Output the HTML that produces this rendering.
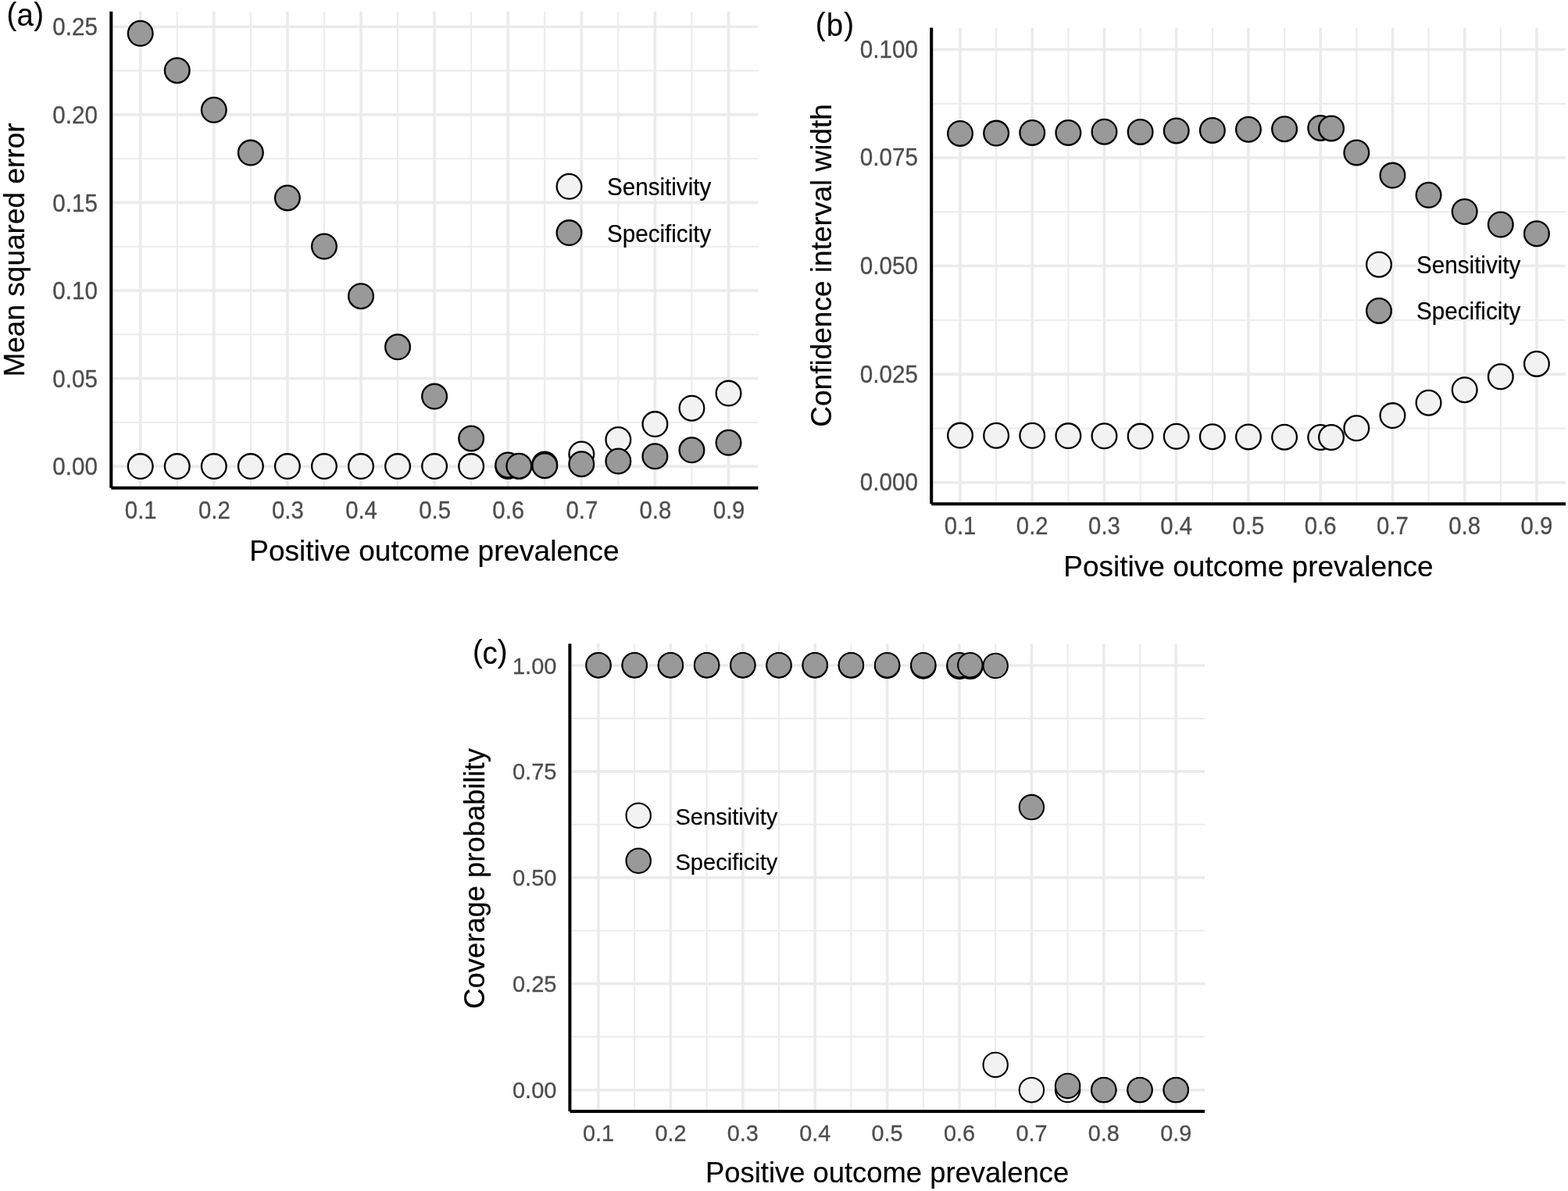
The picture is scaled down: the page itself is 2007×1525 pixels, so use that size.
<!DOCTYPE html>
<html lang="en">
<head>
<meta charset="utf-8">
<title>Sensitivity and specificity versus positive outcome prevalence</title>
<style>
html,body{margin:0;padding:0;background:#fff;}
body{width:2007px;height:1525px;overflow:hidden;}
svg{display:block;font-family:"Liberation Sans",Arial,Helvetica,sans-serif;}
.tag{font-family:"Liberation Sans","DejaVu Sans",sans-serif;}
</style>
</head>
<body>
<svg width="2007" height="1525" viewBox="0 0 2007 1525">
<rect width="2007" height="1525" fill="#fff"/>
<g id="panel-a">
<g stroke="#ebebeb" fill="none">
<line x1="142.3" x2="970.4" y1="90.54" y2="90.54" stroke-width="1.95"/>
<line x1="142.3" x2="970.4" y1="203.12" y2="203.12" stroke-width="1.95"/>
<line x1="142.3" x2="970.4" y1="315.7" y2="315.7" stroke-width="1.95"/>
<line x1="142.3" x2="970.4" y1="428.28" y2="428.28" stroke-width="1.95"/>
<line x1="142.3" x2="970.4" y1="540.86" y2="540.86" stroke-width="1.95"/>
<line x1="226.75" x2="226.75" y1="14.7" y2="624.8" stroke-width="1.95"/>
<line x1="320.85" x2="320.85" y1="14.7" y2="624.8" stroke-width="1.95"/>
<line x1="414.95" x2="414.95" y1="14.7" y2="624.8" stroke-width="1.95"/>
<line x1="509.05" x2="509.05" y1="14.7" y2="624.8" stroke-width="1.95"/>
<line x1="603.15" x2="603.15" y1="14.7" y2="624.8" stroke-width="1.95"/>
<line x1="697.25" x2="697.25" y1="14.7" y2="624.8" stroke-width="1.95"/>
<line x1="791.35" x2="791.35" y1="14.7" y2="624.8" stroke-width="1.95"/>
<line x1="885.45" x2="885.45" y1="14.7" y2="624.8" stroke-width="1.95"/>
<line x1="142.3" x2="970.4" y1="34.25" y2="34.25" stroke-width="3.6"/>
<line x1="142.3" x2="970.4" y1="146.83" y2="146.83" stroke-width="3.6"/>
<line x1="142.3" x2="970.4" y1="259.41" y2="259.41" stroke-width="3.6"/>
<line x1="142.3" x2="970.4" y1="371.99" y2="371.99" stroke-width="3.6"/>
<line x1="142.3" x2="970.4" y1="484.57" y2="484.57" stroke-width="3.6"/>
<line x1="142.3" x2="970.4" y1="597.15" y2="597.15" stroke-width="3.6"/>
<line x1="179.7" x2="179.7" y1="14.7" y2="624.8" stroke-width="3.6"/>
<line x1="273.8" x2="273.8" y1="14.7" y2="624.8" stroke-width="3.6"/>
<line x1="367.9" x2="367.9" y1="14.7" y2="624.8" stroke-width="3.6"/>
<line x1="462" x2="462" y1="14.7" y2="624.8" stroke-width="3.6"/>
<line x1="556.1" x2="556.1" y1="14.7" y2="624.8" stroke-width="3.6"/>
<line x1="650.2" x2="650.2" y1="14.7" y2="624.8" stroke-width="3.6"/>
<line x1="744.3" x2="744.3" y1="14.7" y2="624.8" stroke-width="3.6"/>
<line x1="838.4" x2="838.4" y1="14.7" y2="624.8" stroke-width="3.6"/>
<line x1="932.5" x2="932.5" y1="14.7" y2="624.8" stroke-width="3.6"/>
</g>
<g stroke="#000" stroke-width="2.3" fill="#f2f2f2">
<circle cx="179.7" cy="597.1" r="15.85"/>
<circle cx="226.75" cy="597.1" r="15.85"/>
<circle cx="273.8" cy="597.1" r="15.85"/>
<circle cx="320.85" cy="597.1" r="15.85"/>
<circle cx="367.9" cy="597.1" r="15.85"/>
<circle cx="414.95" cy="597.1" r="15.85"/>
<circle cx="462" cy="597.1" r="15.85"/>
<circle cx="509.05" cy="597.1" r="15.85"/>
<circle cx="556.1" cy="597.1" r="15.85"/>
<circle cx="603.15" cy="597.1" r="15.85"/>
<circle cx="650.2" cy="597.1" r="15.85"/>
<circle cx="664.31" cy="597.1" r="15.85"/>
<circle cx="697.25" cy="594.4" r="15.85"/>
<circle cx="744.3" cy="581.5" r="15.85"/>
<circle cx="791.35" cy="563" r="15.85"/>
<circle cx="838.4" cy="543.1" r="15.85"/>
<circle cx="885.45" cy="522.7" r="15.85"/>
<circle cx="932.5" cy="503.6" r="15.85"/>
</g>
<g stroke="#000" stroke-width="2.3" fill="#999999">
<circle cx="179.7" cy="42.8" r="15.85"/>
<circle cx="226.75" cy="90.2" r="15.85"/>
<circle cx="273.8" cy="140.8" r="15.85"/>
<circle cx="320.85" cy="195.6" r="15.85"/>
<circle cx="367.9" cy="253.4" r="15.85"/>
<circle cx="414.95" cy="315.5" r="15.85"/>
<circle cx="462" cy="379.2" r="15.85"/>
<circle cx="509.05" cy="444.3" r="15.85"/>
<circle cx="556.1" cy="507.6" r="15.85"/>
<circle cx="603.15" cy="561.4" r="15.85"/>
<circle cx="650.2" cy="595.5" r="15.85"/>
<circle cx="664.31" cy="596.7" r="15.85"/>
<circle cx="697.25" cy="596.2" r="15.85"/>
<circle cx="744.3" cy="594.2" r="15.85"/>
<circle cx="791.35" cy="590.5" r="15.85"/>
<circle cx="838.4" cy="584.3" r="15.85"/>
<circle cx="885.45" cy="576.3" r="15.85"/>
<circle cx="932.5" cy="566.8" r="15.85"/>
</g>
<path d="M142.3 14.7V624.8M142.3 624.8H970.4" stroke="#000" stroke-width="4.05" fill="none"/>
<g fill="#4d4d4d">
<text transform="translate(125 45.35) scale(1 1.04)" font-size="29.62" text-anchor="end" stroke="#4d4d4d" stroke-width="0.3">0.25</text>
<text transform="translate(125 157.93) scale(1 1.04)" font-size="29.62" text-anchor="end" stroke="#4d4d4d" stroke-width="0.3">0.20</text>
<text transform="translate(125 270.51) scale(1 1.04)" font-size="29.62" text-anchor="end" stroke="#4d4d4d" stroke-width="0.3">0.15</text>
<text transform="translate(125 383.09) scale(1 1.04)" font-size="29.62" text-anchor="end" stroke="#4d4d4d" stroke-width="0.3">0.10</text>
<text transform="translate(125 495.67) scale(1 1.04)" font-size="29.62" text-anchor="end" stroke="#4d4d4d" stroke-width="0.3">0.05</text>
<text transform="translate(125 608.25) scale(1 1.04)" font-size="29.62" text-anchor="end" stroke="#4d4d4d" stroke-width="0.3">0.00</text>
<text transform="translate(180.2 663.9) scale(1 1.04)" font-size="29.33" text-anchor="middle" stroke="#4d4d4d" stroke-width="0.3">0.1</text>
<text transform="translate(274.3 663.9) scale(1 1.04)" font-size="29.33" text-anchor="middle" stroke="#4d4d4d" stroke-width="0.3">0.2</text>
<text transform="translate(368.4 663.9) scale(1 1.04)" font-size="29.33" text-anchor="middle" stroke="#4d4d4d" stroke-width="0.3">0.3</text>
<text transform="translate(462.5 663.9) scale(1 1.04)" font-size="29.33" text-anchor="middle" stroke="#4d4d4d" stroke-width="0.3">0.4</text>
<text transform="translate(556.6 663.9) scale(1 1.04)" font-size="29.33" text-anchor="middle" stroke="#4d4d4d" stroke-width="0.3">0.5</text>
<text transform="translate(650.7 663.9) scale(1 1.04)" font-size="29.33" text-anchor="middle" stroke="#4d4d4d" stroke-width="0.3">0.6</text>
<text transform="translate(744.8 663.9) scale(1 1.04)" font-size="29.33" text-anchor="middle" stroke="#4d4d4d" stroke-width="0.3">0.7</text>
<text transform="translate(838.9 663.9) scale(1 1.04)" font-size="29.33" text-anchor="middle" stroke="#4d4d4d" stroke-width="0.3">0.8</text>
<text transform="translate(933 663.9) scale(1 1.04)" font-size="29.33" text-anchor="middle" stroke="#4d4d4d" stroke-width="0.3">0.9</text>
</g>
<text transform="translate(556 717.7) scale(1 1.0)" font-size="37.04" text-anchor="middle" stroke="#000" stroke-width="0.18">Positive outcome prevalence</text>
<text transform="translate(30.7 320) rotate(-90) scale(1 1.0)" font-size="37.04" text-anchor="middle" stroke="#000" stroke-width="0.18">Mean squared error</text>
<circle cx="728.5" cy="238.8" r="15.85" stroke="#000" stroke-width="2.3" fill="#f2f2f2"/>
<circle cx="728.5" cy="298.1" r="15.85" stroke="#000" stroke-width="2.3" fill="#999999"/>
<text transform="translate(777 250.3) scale(1 1.03)" font-size="29.62" stroke="#000" stroke-width="0.18">Sensitivity</text>
<text transform="translate(777 309.6) scale(1 1.03)" font-size="29.62" stroke="#000" stroke-width="0.18">Specificity</text>
<text transform="translate(8.5 31.65) scale(1 1.045)" font-size="38.5" letter-spacing="0.2" class="tag" stroke="#000" stroke-width="0.15">(<tspan dy="1.2">a</tspan><tspan dy="-1.2">)</tspan></text>
</g>
<g id="panel-b">
<g stroke="#ebebeb" fill="none">
<line x1="1192.2" x2="2004" y1="132.65" y2="132.65" stroke-width="1.95"/>
<line x1="1192.2" x2="2004" y1="271.25" y2="271.25" stroke-width="1.95"/>
<line x1="1192.2" x2="2004" y1="409.85" y2="409.85" stroke-width="1.95"/>
<line x1="1192.2" x2="2004" y1="548.45" y2="548.45" stroke-width="1.95"/>
<line x1="1275.12" x2="1275.12" y1="35.6" y2="645.2" stroke-width="1.95"/>
<line x1="1367.36" x2="1367.36" y1="35.6" y2="645.2" stroke-width="1.95"/>
<line x1="1459.6" x2="1459.6" y1="35.6" y2="645.2" stroke-width="1.95"/>
<line x1="1551.84" x2="1551.84" y1="35.6" y2="645.2" stroke-width="1.95"/>
<line x1="1644.08" x2="1644.08" y1="35.6" y2="645.2" stroke-width="1.95"/>
<line x1="1736.32" x2="1736.32" y1="35.6" y2="645.2" stroke-width="1.95"/>
<line x1="1828.56" x2="1828.56" y1="35.6" y2="645.2" stroke-width="1.95"/>
<line x1="1920.8" x2="1920.8" y1="35.6" y2="645.2" stroke-width="1.95"/>
<line x1="1192.2" x2="2004" y1="63.35" y2="63.35" stroke-width="3.6"/>
<line x1="1192.2" x2="2004" y1="201.95" y2="201.95" stroke-width="3.6"/>
<line x1="1192.2" x2="2004" y1="340.55" y2="340.55" stroke-width="3.6"/>
<line x1="1192.2" x2="2004" y1="479.15" y2="479.15" stroke-width="3.6"/>
<line x1="1192.2" x2="2004" y1="617.75" y2="617.75" stroke-width="3.6"/>
<line x1="1229" x2="1229" y1="35.6" y2="645.2" stroke-width="3.6"/>
<line x1="1321.24" x2="1321.24" y1="35.6" y2="645.2" stroke-width="3.6"/>
<line x1="1413.48" x2="1413.48" y1="35.6" y2="645.2" stroke-width="3.6"/>
<line x1="1505.72" x2="1505.72" y1="35.6" y2="645.2" stroke-width="3.6"/>
<line x1="1597.96" x2="1597.96" y1="35.6" y2="645.2" stroke-width="3.6"/>
<line x1="1690.2" x2="1690.2" y1="35.6" y2="645.2" stroke-width="3.6"/>
<line x1="1782.44" x2="1782.44" y1="35.6" y2="645.2" stroke-width="3.6"/>
<line x1="1874.68" x2="1874.68" y1="35.6" y2="645.2" stroke-width="3.6"/>
<line x1="1966.92" x2="1966.92" y1="35.6" y2="645.2" stroke-width="3.6"/>
</g>
<g stroke="#000" stroke-width="2.3" fill="#f2f2f2">
<circle cx="1229" cy="557.6" r="15.85"/>
<circle cx="1275.12" cy="557.7" r="15.85"/>
<circle cx="1321.24" cy="557.8" r="15.85"/>
<circle cx="1367.36" cy="558.1" r="15.85"/>
<circle cx="1413.48" cy="558.3" r="15.85"/>
<circle cx="1459.6" cy="558.6" r="15.85"/>
<circle cx="1505.72" cy="558.8" r="15.85"/>
<circle cx="1551.84" cy="559.2" r="15.85"/>
<circle cx="1597.96" cy="559.4" r="15.85"/>
<circle cx="1644.08" cy="559.7" r="15.85"/>
<circle cx="1690.2" cy="560" r="15.85"/>
<circle cx="1704.04" cy="560" r="15.85"/>
<circle cx="1736.32" cy="548.3" r="15.85"/>
<circle cx="1782.44" cy="532.1" r="15.85"/>
<circle cx="1828.56" cy="515.7" r="15.85"/>
<circle cx="1874.68" cy="499.2" r="15.85"/>
<circle cx="1920.8" cy="482.3" r="15.85"/>
<circle cx="1966.92" cy="465.9" r="15.85"/>
</g>
<g stroke="#000" stroke-width="2.3" fill="#999999">
<circle cx="1229" cy="170.9" r="15.85"/>
<circle cx="1275.12" cy="170.6" r="15.85"/>
<circle cx="1321.24" cy="169.9" r="15.85"/>
<circle cx="1367.36" cy="169.9" r="15.85"/>
<circle cx="1413.48" cy="168.7" r="15.85"/>
<circle cx="1459.6" cy="168.9" r="15.85"/>
<circle cx="1505.72" cy="167.4" r="15.85"/>
<circle cx="1551.84" cy="166.9" r="15.85"/>
<circle cx="1597.96" cy="165.7" r="15.85"/>
<circle cx="1644.08" cy="165.2" r="15.85"/>
<circle cx="1690.2" cy="163.9" r="15.85"/>
<circle cx="1704.04" cy="164.4" r="15.85"/>
<circle cx="1736.32" cy="195.4" r="15.85"/>
<circle cx="1782.44" cy="224.6" r="15.85"/>
<circle cx="1828.56" cy="249.8" r="15.85"/>
<circle cx="1874.68" cy="271" r="15.85"/>
<circle cx="1920.8" cy="287.5" r="15.85"/>
<circle cx="1966.92" cy="299.2" r="15.85"/>
</g>
<path d="M1192.2 35.6V645.2M1192.2 645.2H2004" stroke="#000" stroke-width="4.05" fill="none"/>
<g fill="#4d4d4d">
<text transform="translate(1174.9 73.75) scale(1 1.04)" font-size="29.62" text-anchor="end" stroke="#4d4d4d" stroke-width="0.3">0.100</text>
<text transform="translate(1174.9 212.35) scale(1 1.04)" font-size="29.62" text-anchor="end" stroke="#4d4d4d" stroke-width="0.3">0.075</text>
<text transform="translate(1174.9 350.95) scale(1 1.04)" font-size="29.62" text-anchor="end" stroke="#4d4d4d" stroke-width="0.3">0.050</text>
<text transform="translate(1174.9 489.55) scale(1 1.04)" font-size="29.62" text-anchor="end" stroke="#4d4d4d" stroke-width="0.3">0.025</text>
<text transform="translate(1174.9 628.15) scale(1 1.04)" font-size="29.62" text-anchor="end" stroke="#4d4d4d" stroke-width="0.3">0.000</text>
<text transform="translate(1229 684.3) scale(1 1.04)" font-size="29.33" text-anchor="middle" stroke="#4d4d4d" stroke-width="0.3">0.1</text>
<text transform="translate(1321.24 684.3) scale(1 1.04)" font-size="29.33" text-anchor="middle" stroke="#4d4d4d" stroke-width="0.3">0.2</text>
<text transform="translate(1413.48 684.3) scale(1 1.04)" font-size="29.33" text-anchor="middle" stroke="#4d4d4d" stroke-width="0.3">0.3</text>
<text transform="translate(1505.72 684.3) scale(1 1.04)" font-size="29.33" text-anchor="middle" stroke="#4d4d4d" stroke-width="0.3">0.4</text>
<text transform="translate(1597.96 684.3) scale(1 1.04)" font-size="29.33" text-anchor="middle" stroke="#4d4d4d" stroke-width="0.3">0.5</text>
<text transform="translate(1690.2 684.3) scale(1 1.04)" font-size="29.33" text-anchor="middle" stroke="#4d4d4d" stroke-width="0.3">0.6</text>
<text transform="translate(1782.44 684.3) scale(1 1.04)" font-size="29.33" text-anchor="middle" stroke="#4d4d4d" stroke-width="0.3">0.7</text>
<text transform="translate(1874.68 684.3) scale(1 1.04)" font-size="29.33" text-anchor="middle" stroke="#4d4d4d" stroke-width="0.3">0.8</text>
<text transform="translate(1966.92 684.3) scale(1 1.04)" font-size="29.33" text-anchor="middle" stroke="#4d4d4d" stroke-width="0.3">0.9</text>
</g>
<text transform="translate(1598 738.1) scale(1 1.0)" font-size="37.04" text-anchor="middle" stroke="#000" stroke-width="0.18">Positive outcome prevalence</text>
<text transform="translate(1064.3 339.9) rotate(-90) scale(1 1.0)" font-size="37.04" text-anchor="middle" stroke="#000" stroke-width="0.18">Confidence interval width</text>
<circle cx="1765" cy="338.7" r="15.85" stroke="#000" stroke-width="2.3" fill="#f2f2f2"/>
<circle cx="1765" cy="397.9" r="15.85" stroke="#000" stroke-width="2.3" fill="#999999"/>
<text transform="translate(1813.1 349.5) scale(1 1.03)" font-size="29.62" stroke="#000" stroke-width="0.18">Sensitivity</text>
<text transform="translate(1813.1 408.7) scale(1 1.03)" font-size="29.62" stroke="#000" stroke-width="0.18">Specificity</text>
<text transform="translate(1043.75 45.3) scale(1 1.045)" font-size="38.5" letter-spacing="1.1" class="tag" stroke="#000" stroke-width="0.15">(<tspan dy="0.96">b</tspan><tspan dy="-0.96">)</tspan></text>
</g>
<g id="panel-c">
<g stroke="#ebebeb" fill="none">
<line x1="729.4" x2="1542" y1="919.92" y2="919.92" stroke-width="1.95"/>
<line x1="729.4" x2="1542" y1="1055.78" y2="1055.78" stroke-width="1.95"/>
<line x1="729.4" x2="1542" y1="1191.62" y2="1191.62" stroke-width="1.95"/>
<line x1="729.4" x2="1542" y1="1327.52" y2="1327.52" stroke-width="1.95"/>
<line x1="812.2" x2="812.2" y1="824.3" y2="1422.9" stroke-width="1.95"/>
<line x1="904.6" x2="904.6" y1="824.3" y2="1422.9" stroke-width="1.95"/>
<line x1="997" x2="997" y1="824.3" y2="1422.9" stroke-width="1.95"/>
<line x1="1089.4" x2="1089.4" y1="824.3" y2="1422.9" stroke-width="1.95"/>
<line x1="1181.8" x2="1181.8" y1="824.3" y2="1422.9" stroke-width="1.95"/>
<line x1="1274.2" x2="1274.2" y1="824.3" y2="1422.9" stroke-width="1.95"/>
<line x1="1366.6" x2="1366.6" y1="824.3" y2="1422.9" stroke-width="1.95"/>
<line x1="1459" x2="1459" y1="824.3" y2="1422.9" stroke-width="1.95"/>
<line x1="729.4" x2="1542" y1="852" y2="852" stroke-width="3.6"/>
<line x1="729.4" x2="1542" y1="987.85" y2="987.85" stroke-width="3.6"/>
<line x1="729.4" x2="1542" y1="1123.7" y2="1123.7" stroke-width="3.6"/>
<line x1="729.4" x2="1542" y1="1259.6" y2="1259.6" stroke-width="3.6"/>
<line x1="729.4" x2="1542" y1="1395.7" y2="1395.7" stroke-width="3.6"/>
<line x1="766" x2="766" y1="824.3" y2="1422.9" stroke-width="3.6"/>
<line x1="858.4" x2="858.4" y1="824.3" y2="1422.9" stroke-width="3.6"/>
<line x1="950.8" x2="950.8" y1="824.3" y2="1422.9" stroke-width="3.6"/>
<line x1="1043.2" x2="1043.2" y1="824.3" y2="1422.9" stroke-width="3.6"/>
<line x1="1135.6" x2="1135.6" y1="824.3" y2="1422.9" stroke-width="3.6"/>
<line x1="1228" x2="1228" y1="824.3" y2="1422.9" stroke-width="3.6"/>
<line x1="1320.4" x2="1320.4" y1="824.3" y2="1422.9" stroke-width="3.6"/>
<line x1="1412.8" x2="1412.8" y1="824.3" y2="1422.9" stroke-width="3.6"/>
<line x1="1505.2" x2="1505.2" y1="824.3" y2="1422.9" stroke-width="3.6"/>
</g>
<g stroke="#000" stroke-width="2.05" fill="#f2f2f2">
<circle cx="766" cy="851.9" r="15.7"/>
<circle cx="812.2" cy="851.9" r="15.7"/>
<circle cx="858.4" cy="851.9" r="15.7"/>
<circle cx="904.6" cy="851.9" r="15.7"/>
<circle cx="950.8" cy="851.9" r="15.7"/>
<circle cx="997" cy="851.9" r="15.7"/>
<circle cx="1043.2" cy="852" r="15.7"/>
<circle cx="1089.4" cy="852.1" r="15.7"/>
<circle cx="1135.6" cy="852.5" r="15.7"/>
<circle cx="1181.8" cy="853" r="15.7"/>
<circle cx="1228" cy="853.4" r="15.7"/>
<circle cx="1241.86" cy="853.3" r="15.7"/>
<circle cx="1274.2" cy="1363.4" r="15.7"/>
<circle cx="1320.4" cy="1395.7" r="15.7"/>
<circle cx="1366.6" cy="1395.5" r="15.7"/>
<circle cx="1412.8" cy="1395.6" r="15.7"/>
<circle cx="1459" cy="1395.6" r="15.7"/>
<circle cx="1505.2" cy="1395.6" r="15.7"/>
</g>
<g stroke="#000" stroke-width="2.05" fill="#999999">
<circle cx="766" cy="851.7" r="15.7"/>
<circle cx="812.2" cy="851.7" r="15.7"/>
<circle cx="858.4" cy="851.7" r="15.7"/>
<circle cx="904.6" cy="851.7" r="15.7"/>
<circle cx="950.8" cy="851.7" r="15.7"/>
<circle cx="997" cy="851.7" r="15.7"/>
<circle cx="1043.2" cy="851.7" r="15.7"/>
<circle cx="1089.4" cy="851.7" r="15.7"/>
<circle cx="1135.6" cy="851.7" r="15.7"/>
<circle cx="1181.8" cy="851.7" r="15.7"/>
<circle cx="1228" cy="851.7" r="15.7"/>
<circle cx="1241.86" cy="851.7" r="15.7"/>
<circle cx="1274.2" cy="852.5" r="15.7"/>
<circle cx="1320.4" cy="1033.6" r="15.7"/>
<circle cx="1366.6" cy="1390.4" r="15.7"/>
<circle cx="1412.8" cy="1395.6" r="15.7"/>
<circle cx="1459" cy="1395.6" r="15.7"/>
<circle cx="1505.2" cy="1395.6" r="15.7"/>
</g>
<path d="M729.4 824.3V1422.9M729.4 1422.9H1542" stroke="#000" stroke-width="4.0" fill="none"/>
<g fill="#4d4d4d">
<text transform="translate(712.5 862.5) scale(1 1.04)" font-size="29.1" text-anchor="end" stroke="#4d4d4d" stroke-width="0.3">1.00</text>
<text transform="translate(712.5 998.35) scale(1 1.04)" font-size="29.1" text-anchor="end" stroke="#4d4d4d" stroke-width="0.3">0.75</text>
<text transform="translate(712.5 1134.2) scale(1 1.04)" font-size="29.1" text-anchor="end" stroke="#4d4d4d" stroke-width="0.3">0.50</text>
<text transform="translate(712.5 1270.1) scale(1 1.04)" font-size="29.1" text-anchor="end" stroke="#4d4d4d" stroke-width="0.3">0.25</text>
<text transform="translate(712.5 1406.2) scale(1 1.04)" font-size="29.1" text-anchor="end" stroke="#4d4d4d" stroke-width="0.3">0.00</text>
<text transform="translate(766 1461) scale(1 1.04)" font-size="28.81" text-anchor="middle" stroke="#4d4d4d" stroke-width="0.3">0.1</text>
<text transform="translate(858.4 1461) scale(1 1.04)" font-size="28.81" text-anchor="middle" stroke="#4d4d4d" stroke-width="0.3">0.2</text>
<text transform="translate(950.8 1461) scale(1 1.04)" font-size="28.81" text-anchor="middle" stroke="#4d4d4d" stroke-width="0.3">0.3</text>
<text transform="translate(1043.2 1461) scale(1 1.04)" font-size="28.81" text-anchor="middle" stroke="#4d4d4d" stroke-width="0.3">0.4</text>
<text transform="translate(1135.6 1461) scale(1 1.04)" font-size="28.81" text-anchor="middle" stroke="#4d4d4d" stroke-width="0.3">0.5</text>
<text transform="translate(1228 1461) scale(1 1.04)" font-size="28.81" text-anchor="middle" stroke="#4d4d4d" stroke-width="0.3">0.6</text>
<text transform="translate(1320.4 1461) scale(1 1.04)" font-size="28.81" text-anchor="middle" stroke="#4d4d4d" stroke-width="0.3">0.7</text>
<text transform="translate(1412.8 1461) scale(1 1.04)" font-size="28.81" text-anchor="middle" stroke="#4d4d4d" stroke-width="0.3">0.8</text>
<text transform="translate(1505.2 1461) scale(1 1.04)" font-size="28.81" text-anchor="middle" stroke="#4d4d4d" stroke-width="0.3">0.9</text>
</g>
<text transform="translate(1135.6 1514.4) scale(1 1.0)" font-size="36.38" text-anchor="middle" stroke="#000" stroke-width="0.18">Positive outcome prevalence</text>
<text transform="translate(619.6 1124.9) rotate(-90) scale(1 1.0)" font-size="36.38" text-anchor="middle" stroke="#000" stroke-width="0.18">Coverage probability</text>
<circle cx="817.2" cy="1044.2" r="15.7" stroke="#000" stroke-width="2.05" fill="#f2f2f2"/>
<circle cx="817.2" cy="1102.2" r="15.7" stroke="#000" stroke-width="2.05" fill="#999999"/>
<text transform="translate(864.4 1056) scale(1 1.03)" font-size="29.1" stroke="#000" stroke-width="0.18">Sensitivity</text>
<text transform="translate(864.4 1114) scale(1 1.03)" font-size="29.1" stroke="#000" stroke-width="0.18">Specificity</text>
<text transform="translate(605 848.25) scale(1 1.045)" font-size="38.5" letter-spacing="-0.2" class="tag" stroke="#000" stroke-width="0.15">(<tspan dy="1.63">c</tspan><tspan dy="-1.63">)</tspan></text>
</g>
</svg>
</body>
</html>
